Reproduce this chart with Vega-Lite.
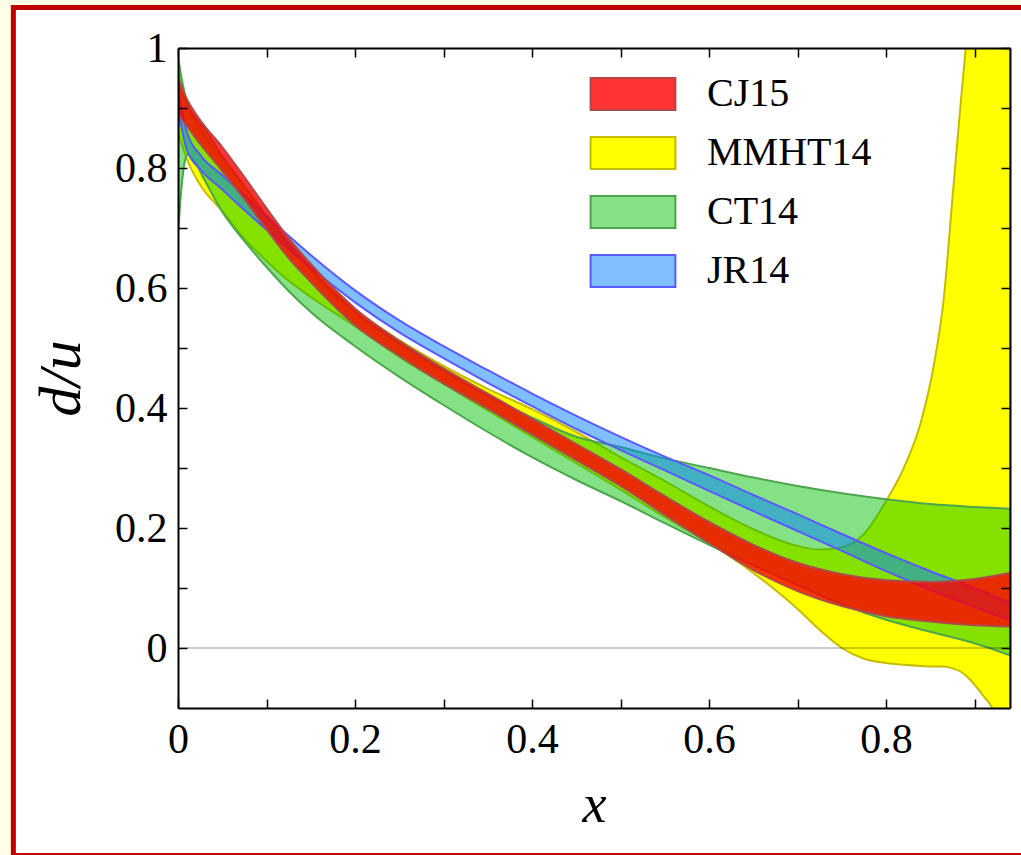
{
  "$schema": "https://vega.github.io/schema/vega-lite/v6.json",
  "width": 832,
  "height": 660,
  "autosize": {"type": "none"},
  "padding": {"left": 178, "top": 48, "right": 11, "bottom": 147},
  "background": "#fffde8",
  "config": {
    "view": {"stroke": null},
    "font": "Liberation Serif",
    "axis": {"grid": false, "domainColor": "#000", "domainWidth": 2, "tickColor": "#000", "tickWidth": 1.5, "tickSize": -9, "labelFont": "Liberation Serif", "labelFontSize": 42, "labelColor": "#000", "labelFlush": false, "titleFont": "Liberation Serif", "titleColor": "#000", "titleFontWeight": "normal", "titleFontStyle": "italic"},
    "legend": {"orient": "none", "legendX": 411, "legendY": 26, "title": null, "symbolType": "M-2.65,-1H2.65V1H-2.65Z", "symbolSize": 1024, "symbolStrokeWidth": 2, "symbolOffset": 24, "labelOffset": 54, "labelFont": "Liberation Serif", "labelFontSize": 40, "labelColor": "#000", "rowPadding": 19, "padding": 0, "labelLimit": 400}
  },
  "datasets": {
    "bands": [
      {"m":"CJ15","x":0,"hi":0.95,"lo":0.89},
      {"m":"CJ15","x":0.01,"hi":0.915,"lo":0.87},
      {"m":"CJ15","x":0.025,"hi":0.88,"lo":0.84},
      {"m":"CJ15","x":0.05,"hi":0.835,"lo":0.795},
      {"m":"CJ15","x":0.075,"hi":0.785,"lo":0.748},
      {"m":"CJ15","x":0.1,"hi":0.733,"lo":0.698},
      {"m":"CJ15","x":0.125,"hi":0.683,"lo":0.65},
      {"m":"CJ15","x":0.15,"hi":0.64,"lo":0.61},
      {"m":"CJ15","x":0.2,"hi":0.566,"lo":0.538},
      {"m":"CJ15","x":0.25,"hi":0.512,"lo":0.487},
      {"m":"CJ15","x":0.3,"hi":0.466,"lo":0.441},
      {"m":"CJ15","x":0.35,"hi":0.424,"lo":0.399},
      {"m":"CJ15","x":0.4,"hi":0.382,"lo":0.356},
      {"m":"CJ15","x":0.45,"hi":0.34,"lo":0.313},
      {"m":"CJ15","x":0.5,"hi":0.298,"lo":0.27},
      {"m":"CJ15","x":0.55,"hi":0.253,"lo":0.222},
      {"m":"CJ15","x":0.6,"hi":0.21,"lo":0.175},
      {"m":"CJ15","x":0.65,"hi":0.172,"lo":0.13},
      {"m":"CJ15","x":0.7,"hi":0.142,"lo":0.095},
      {"m":"CJ15","x":0.75,"hi":0.123,"lo":0.07},
      {"m":"CJ15","x":0.8,"hi":0.113,"lo":0.053},
      {"m":"CJ15","x":0.85,"hi":0.11,"lo":0.044},
      {"m":"CJ15","x":0.9,"hi":0.115,"lo":0.038},
      {"m":"CJ15","x":0.94,"hi":0.125,"lo":0.036},
      {"m":"JR14","x":0,"hi":0.93,"lo":0.9},
      {"m":"JR14","x":0.01,"hi":0.86,"lo":0.83},
      {"m":"JR14","x":0.025,"hi":0.822,"lo":0.798},
      {"m":"JR14","x":0.05,"hi":0.788,"lo":0.764},
      {"m":"JR14","x":0.075,"hi":0.755,"lo":0.73},
      {"m":"JR14","x":0.1,"hi":0.72,"lo":0.697},
      {"m":"JR14","x":0.125,"hi":0.687,"lo":0.665},
      {"m":"JR14","x":0.15,"hi":0.655,"lo":0.634},
      {"m":"JR14","x":0.2,"hi":0.596,"lo":0.576},
      {"m":"JR14","x":0.25,"hi":0.546,"lo":0.526},
      {"m":"JR14","x":0.3,"hi":0.503,"lo":0.483},
      {"m":"JR14","x":0.35,"hi":0.463,"lo":0.442},
      {"m":"JR14","x":0.4,"hi":0.424,"lo":0.403},
      {"m":"JR14","x":0.45,"hi":0.387,"lo":0.365},
      {"m":"JR14","x":0.5,"hi":0.352,"lo":0.33},
      {"m":"JR14","x":0.55,"hi":0.319,"lo":0.296},
      {"m":"JR14","x":0.6,"hi":0.288,"lo":0.262},
      {"m":"JR14","x":0.65,"hi":0.255,"lo":0.228},
      {"m":"JR14","x":0.7,"hi":0.223,"lo":0.195},
      {"m":"JR14","x":0.75,"hi":0.19,"lo":0.162},
      {"m":"JR14","x":0.8,"hi":0.158,"lo":0.128},
      {"m":"JR14","x":0.85,"hi":0.128,"lo":0.097},
      {"m":"JR14","x":0.9,"hi":0.1,"lo":0.068},
      {"m":"JR14","x":0.94,"hi":0.075,"lo":0.047},
      {"m":"MMHT14","x":0,"hi":0.96,"lo":0.86},
      {"m":"MMHT14","x":0.01,"hi":0.905,"lo":0.815},
      {"m":"MMHT14","x":0.025,"hi":0.865,"lo":0.772},
      {"m":"MMHT14","x":0.05,"hi":0.815,"lo":0.728},
      {"m":"MMHT14","x":0.075,"hi":0.77,"lo":0.682},
      {"m":"MMHT14","x":0.1,"hi":0.72,"lo":0.645},
      {"m":"MMHT14","x":0.125,"hi":0.675,"lo":0.612},
      {"m":"MMHT14","x":0.15,"hi":0.633,"lo":0.585},
      {"m":"MMHT14","x":0.2,"hi":0.564,"lo":0.536},
      {"m":"MMHT14","x":0.25,"hi":0.513,"lo":0.485},
      {"m":"MMHT14","x":0.3,"hi":0.47,"lo":0.44},
      {"m":"MMHT14","x":0.35,"hi":0.432,"lo":0.396},
      {"m":"MMHT14","x":0.4,"hi":0.398,"lo":0.352},
      {"m":"MMHT14","x":0.45,"hi":0.36,"lo":0.308},
      {"m":"MMHT14","x":0.5,"hi":0.318,"lo":0.264},
      {"m":"MMHT14","x":0.55,"hi":0.278,"lo":0.218},
      {"m":"MMHT14","x":0.6,"hi":0.236,"lo":0.175},
      {"m":"MMHT14","x":0.65,"hi":0.198,"lo":0.125},
      {"m":"MMHT14","x":0.7,"hi":0.17,"lo":0.065},
      {"m":"MMHT14","x":0.725,"hi":0.164,"lo":0.03},
      {"m":"MMHT14","x":0.75,"hi":0.168,"lo":0.0},
      {"m":"MMHT14","x":0.775,"hi":0.19,"lo":-0.018},
      {"m":"MMHT14","x":0.8,"hi":0.245,"lo":-0.025},
      {"m":"MMHT14","x":0.82,"hi":0.3,"lo":-0.028},
      {"m":"MMHT14","x":0.84,"hi":0.38,"lo":-0.03},
      {"m":"MMHT14","x":0.855,"hi":0.48,"lo":-0.031},
      {"m":"MMHT14","x":0.865,"hi":0.58,"lo":-0.031},
      {"m":"MMHT14","x":0.875,"hi":0.75,"lo":-0.034},
      {"m":"MMHT14","x":0.885,"hi":0.92,"lo":-0.04},
      {"m":"MMHT14","x":0.895,"hi":1.08,"lo":-0.053},
      {"m":"MMHT14","x":0.91,"hi":1.35,"lo":-0.08},
      {"m":"MMHT14","x":0.92,"hi":1.55,"lo":-0.1},
      {"m":"MMHT14","x":0.94,"hi":2.0,"lo":-0.2},
      {"m":"CT14","x":0,"hi":0.985,"lo":0.69},
      {"m":"CT14","x":0.004,"hi":0.95,"lo":0.768},
      {"m":"CT14","x":0.0075,"hi":0.925,"lo":0.81},
      {"m":"CT14","x":0.011,"hi":0.905,"lo":0.822},
      {"m":"CT14","x":0.019,"hi":0.885,"lo":0.81},
      {"m":"CT14","x":0.03,"hi":0.865,"lo":0.78},
      {"m":"CT14","x":0.05,"hi":0.82,"lo":0.727},
      {"m":"CT14","x":0.075,"hi":0.77,"lo":0.678},
      {"m":"CT14","x":0.1,"hi":0.72,"lo":0.635},
      {"m":"CT14","x":0.125,"hi":0.674,"lo":0.595},
      {"m":"CT14","x":0.15,"hi":0.63,"lo":0.56},
      {"m":"CT14","x":0.2,"hi":0.56,"lo":0.503},
      {"m":"CT14","x":0.25,"hi":0.508,"lo":0.452},
      {"m":"CT14","x":0.3,"hi":0.462,"lo":0.405},
      {"m":"CT14","x":0.35,"hi":0.42,"lo":0.36},
      {"m":"CT14","x":0.4,"hi":0.384,"lo":0.318},
      {"m":"CT14","x":0.45,"hi":0.352,"lo":0.28},
      {"m":"CT14","x":0.5,"hi":0.335,"lo":0.245},
      {"m":"CT14","x":0.55,"hi":0.316,"lo":0.208},
      {"m":"CT14","x":0.6,"hi":0.3,"lo":0.172},
      {"m":"CT14","x":0.65,"hi":0.284,"lo":0.138},
      {"m":"CT14","x":0.7,"hi":0.27,"lo":0.105},
      {"m":"CT14","x":0.75,"hi":0.258,"lo":0.073},
      {"m":"CT14","x":0.8,"hi":0.248,"lo":0.047},
      {"m":"CT14","x":0.85,"hi":0.24,"lo":0.027},
      {"m":"CT14","x":0.9,"hi":0.235,"lo":0.008},
      {"m":"CT14","x":0.94,"hi":0.232,"lo":-0.012}
    ]
  },
  "layer": [
    {
      "layer": [
        {
          "data": {"values": [{}]},
          "mark": {"type": "rect", "fill": "#ffffff", "stroke": "#c00000", "strokeWidth": 5, "clip": false},
          "encoding": {
            "x": {"datum": -0.186, "type": "quantitative", "scale": {"domain": [0, 0.94], "nice": false, "zero": false}, "axis": {"zindex": 2, "values": [0,0.1,0.2,0.3,0.4,0.5,0.6,0.7,0.8,0.9], "labelExpr": "round(datum.value*10) % 2 == 0 ? format(datum.value, '~g') : ''", "labelPadding": 20, "title": "x", "titleFontSize": 54, "titlePadding": 18}},
            "x2": {"datum": 0.963},
            "y": {"datum": 1.0675, "type": "quantitative", "scale": {"domain": [-0.1, 1], "nice": false, "zero": false}, "axis": {"zindex": 2, "values": [0,0.1,0.2,0.3,0.4,0.5,0.6,0.7,0.8,0.9,1], "labelExpr": "round(datum.value*10) % 2 == 0 ? format(datum.value, '~g') : ''", "labelPadding": 20, "title": "d/u", "titleFontSize": 60, "titlePadding": 22}},
            "y2": {"datum": -0.346}
          }
        },
        {
          "data": {"name": "bands"},
          "transform": [{"filter": "datum.m == 'MMHT14'"}],
          "mark": {"type": "area", "interpolate": "monotone", "clip": true, "strokeWidth": 2, "fillOpacity": 1},
          "encoding": {
            "x": {"field": "x", "type": "quantitative", "scale": {"domain": [0, 0.94], "nice": false, "zero": false}},
            "y": {"field": "hi", "type": "quantitative", "scale": {"domain": [-0.1, 1], "nice": false, "zero": false}},
            "y2": {"field": "lo"},
            "fill": {"field": "m", "type": "nominal", "scale": {"domain": ["CJ15","MMHT14","CT14","JR14"], "range": ["#ff0000","#ffff00","#00c000","#0080ff"]}, "legend": {"encode": {"symbols": {"update": {"fillOpacity": {"signal": "datum.value == 'CJ15' ? 0.8 : datum.value == 'MMHT14' ? 1 : datum.value == 'CT14' ? 0.48 : 0.5"}}}}}},
            "stroke": {"field": "m", "type": "nominal", "scale": {"domain": ["CJ15","MMHT14","CT14","JR14"], "range": ["#b04a4a","#c4bc00","#4ca64c","#5a5aff"]}}
          }
        },
        {
          "data": {"name": "bands"},
          "transform": [{"filter": "datum.m == 'CT14'"}],
          "mark": {"type": "area", "interpolate": "monotone", "clip": true, "strokeWidth": 2, "fillOpacity": 0.48},
          "encoding": {
            "x": {"field": "x", "type": "quantitative", "scale": {"domain": [0, 0.94], "nice": false, "zero": false}},
            "y": {"field": "hi", "type": "quantitative", "scale": {"domain": [-0.1, 1], "nice": false, "zero": false}},
            "y2": {"field": "lo"},
            "fill": {"field": "m", "type": "nominal", "scale": {"domain": ["CJ15","MMHT14","CT14","JR14"], "range": ["#ff0000","#ffff00","#00c000","#0080ff"]}, "legend": {"encode": {"symbols": {"update": {"fillOpacity": {"signal": "datum.value == 'CJ15' ? 0.8 : datum.value == 'MMHT14' ? 1 : datum.value == 'CT14' ? 0.48 : 0.5"}}}}}},
            "stroke": {"field": "m", "type": "nominal", "scale": {"domain": ["CJ15","MMHT14","CT14","JR14"], "range": ["#b04a4a","#c4bc00","#4ca64c","#5a5aff"]}}
          }
        },
        {
          "data": {"name": "bands"},
          "transform": [{"filter": "datum.m == 'JR14'"}],
          "mark": {"type": "area", "interpolate": "monotone", "clip": true, "strokeWidth": 2, "fillOpacity": 0.5},
          "encoding": {
            "x": {"field": "x", "type": "quantitative", "scale": {"domain": [0, 0.94], "nice": false, "zero": false}},
            "y": {"field": "hi", "type": "quantitative", "scale": {"domain": [-0.1, 1], "nice": false, "zero": false}},
            "y2": {"field": "lo"},
            "fill": {"field": "m", "type": "nominal", "scale": {"domain": ["CJ15","MMHT14","CT14","JR14"], "range": ["#ff0000","#ffff00","#00c000","#0080ff"]}, "legend": {"encode": {"symbols": {"update": {"fillOpacity": {"signal": "datum.value == 'CJ15' ? 0.8 : datum.value == 'MMHT14' ? 1 : datum.value == 'CT14' ? 0.48 : 0.5"}}}}}},
            "stroke": {"field": "m", "type": "nominal", "scale": {"domain": ["CJ15","MMHT14","CT14","JR14"], "range": ["#b04a4a","#c4bc00","#4ca64c","#5a5aff"]}}
          }
        },
        {
          "data": {"name": "bands"},
          "transform": [{"filter": "datum.m == 'CJ15'"}],
          "mark": {"type": "area", "interpolate": "monotone", "clip": true, "strokeWidth": 2, "fillOpacity": 0.8},
          "encoding": {
            "x": {"field": "x", "type": "quantitative", "scale": {"domain": [0, 0.94], "nice": false, "zero": false}},
            "y": {"field": "hi", "type": "quantitative", "scale": {"domain": [-0.1, 1], "nice": false, "zero": false}},
            "y2": {"field": "lo"},
            "fill": {"field": "m", "type": "nominal", "scale": {"domain": ["CJ15","MMHT14","CT14","JR14"], "range": ["#ff0000","#ffff00","#00c000","#0080ff"]}, "legend": {"encode": {"symbols": {"update": {"fillOpacity": {"signal": "datum.value == 'CJ15' ? 0.8 : datum.value == 'MMHT14' ? 1 : datum.value == 'CT14' ? 0.48 : 0.5"}}}}}},
            "stroke": {"field": "m", "type": "nominal", "scale": {"domain": ["CJ15","MMHT14","CT14","JR14"], "range": ["#b04a4a","#c4bc00","#4ca64c","#5a5aff"]}}
          }
        }
      ]
    },
    {
      "data": {"values": [{}]},
      "mark": {"type": "rule", "color": "#000", "opacity": 0.2, "strokeWidth": 2},
      "encoding": {
        "x": {"datum": 0, "type": "quantitative", "scale": {"domain": [0, 0.94], "nice": false, "zero": false}, "axis": {"zindex": 2, "orient": "top", "values": [0,0.1,0.2,0.3,0.4,0.5,0.6,0.7,0.8,0.9], "labels": false, "title": null}},
        "x2": {"datum": 0.94},
        "y": {"datum": 0, "type": "quantitative", "scale": {"domain": [-0.1, 1], "nice": false, "zero": false}, "axis": {"zindex": 2, "orient": "right", "values": [0,0.1,0.2,0.3,0.4,0.5,0.6,0.7,0.8,0.9,1], "labels": false, "title": null}}
      }
    }
  ],
  "resolve": {"scale": {"x": "independent", "y": "independent"}}
}
